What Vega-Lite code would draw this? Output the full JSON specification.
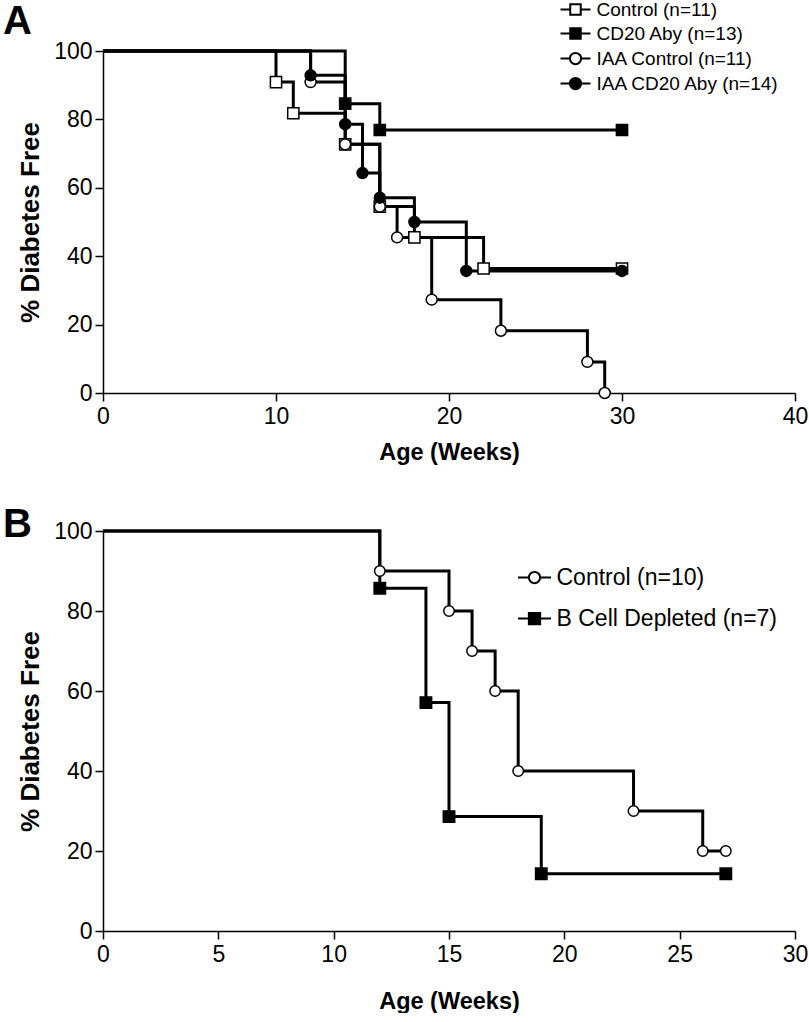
{
  "$schema": "https://vega.github.io/schema/vega-lite/v6.json",
  "background": "white",
  "padding": {"left": 3, "top": 0, "right": 0, "bottom": 0},
  "bounds": "flush",
  "spacing": 138,
  "datasets": {
    "A": [
      {"week": 0, "pct": 100, "group": "Control (n=11)"},
      {"week": 10, "pct": 90.9, "group": "Control (n=11)"},
      {"week": 11, "pct": 81.8, "group": "Control (n=11)"},
      {"week": 14, "pct": 72.7, "group": "Control (n=11)"},
      {"week": 16, "pct": 54.5, "group": "Control (n=11)"},
      {"week": 18, "pct": 45.5, "group": "Control (n=11)"},
      {"week": 22, "pct": 36.4, "group": "Control (n=11)"},
      {"week": 30, "pct": 36.4, "group": "Control (n=11)"},
      {"week": 0, "pct": 100, "group": "CD20 Aby (n=13)"},
      {"week": 14, "pct": 84.6, "group": "CD20 Aby (n=13)"},
      {"week": 16, "pct": 76.9, "group": "CD20 Aby (n=13)"},
      {"week": 30, "pct": 76.9, "group": "CD20 Aby (n=13)"},
      {"week": 0, "pct": 100, "group": "IAA Control (n=11)"},
      {"week": 12, "pct": 90.9, "group": "IAA Control (n=11)"},
      {"week": 14, "pct": 72.7, "group": "IAA Control (n=11)"},
      {"week": 16, "pct": 54.5, "group": "IAA Control (n=11)"},
      {"week": 17, "pct": 45.5, "group": "IAA Control (n=11)"},
      {"week": 19, "pct": 27.3, "group": "IAA Control (n=11)"},
      {"week": 23, "pct": 18.2, "group": "IAA Control (n=11)"},
      {"week": 28, "pct": 9.1, "group": "IAA Control (n=11)"},
      {"week": 29, "pct": 0, "group": "IAA Control (n=11)"},
      {"week": 0, "pct": 100, "group": "IAA CD20 Aby (n=14)"},
      {"week": 12, "pct": 92.9, "group": "IAA CD20 Aby (n=14)"},
      {"week": 14, "pct": 78.6, "group": "IAA CD20 Aby (n=14)"},
      {"week": 15, "pct": 64.3, "group": "IAA CD20 Aby (n=14)"},
      {"week": 16, "pct": 57.1, "group": "IAA CD20 Aby (n=14)"},
      {"week": 18, "pct": 50, "group": "IAA CD20 Aby (n=14)"},
      {"week": 21, "pct": 35.7, "group": "IAA CD20 Aby (n=14)"},
      {"week": 30, "pct": 35.7, "group": "IAA CD20 Aby (n=14)"}
    ],
    "B": [
      {"week": 0, "pct": 100, "group": "Control (n=10)"},
      {"week": 12, "pct": 90, "group": "Control (n=10)"},
      {"week": 15, "pct": 80, "group": "Control (n=10)"},
      {"week": 16, "pct": 70, "group": "Control (n=10)"},
      {"week": 17, "pct": 60, "group": "Control (n=10)"},
      {"week": 18, "pct": 40, "group": "Control (n=10)"},
      {"week": 23, "pct": 30, "group": "Control (n=10)"},
      {"week": 26, "pct": 20, "group": "Control (n=10)"},
      {"week": 27, "pct": 20, "group": "Control (n=10)"},
      {"week": 0, "pct": 100, "group": "B Cell Depleted (n=7)"},
      {"week": 12, "pct": 85.7, "group": "B Cell Depleted (n=7)"},
      {"week": 14, "pct": 57.1, "group": "B Cell Depleted (n=7)"},
      {"week": 15, "pct": 28.6, "group": "B Cell Depleted (n=7)"},
      {"week": 19, "pct": 14.3, "group": "B Cell Depleted (n=7)"},
      {"week": 27, "pct": 14.3, "group": "B Cell Depleted (n=7)"}
    ]
  },
  "resolve": {
    "scale": {"x": "independent", "y": "independent", "shape": "independent", "fill": "independent"},
    "legend": {"shape": "independent", "fill": "independent"}
  },
  "vconcat": [
    {
      "width": 692,
      "height": 342,
      "title": {"text": "A", "anchor": "start", "frame": "group", "fontSize": 40, "fontWeight": "bold", "font": "Liberation Sans", "color": "black", "dx": -100, "offset": -74, "baseline": "alphabetic"},
      "data": {"name": "A"},
      "encoding": {
        "x": {"field": "week", "type": "quantitative", "scale": {"domain": [0, 40], "nice": false},
              "axis": {"values": [0, 10, 20, 30, 40], "title": "Age (Weeks)", "labelPadding": 4, "titlePadding": 12}},
        "y": {"field": "pct", "type": "quantitative", "scale": {"domain": [0, 100], "nice": false},
              "axis": {"values": [0, 20, 40, 60, 80, 100], "title": "% Diabetes Free", "titlePadding": 10, "titleFontSize": 26}}
      },
      "layer": [
        {"mark": {"type": "line", "interpolate": "step-after", "stroke": "black", "strokeWidth": 3},
         "encoding": {"detail": {"field": "group"}}},
        {"transform": [{"filter": "datum.week > 0 && datum.group == 'Control (n=11)'"}],
         "mark": {"type": "point", "shape": "square", "filled": true, "fill": "white", "stroke": "black", "strokeWidth": 1.5, "size": 125, "opacity": 1}},
        {"transform": [{"filter": "datum.week > 0 && datum.group == 'CD20 Aby (n=13)'"}],
         "mark": {"type": "point", "shape": "square", "filled": true, "fill": "black", "stroke": "black", "strokeWidth": 1.5, "size": 125, "opacity": 1}},
        {"transform": [{"filter": "datum.week > 0 && datum.group == 'IAA Control (n=11)'"}],
         "mark": {"type": "point", "shape": "circle", "filled": true, "fill": "white", "stroke": "black", "strokeWidth": 1.5, "size": 120, "opacity": 1}},
        {"transform": [{"filter": "datum.week > 0 && datum.group == 'IAA CD20 Aby (n=14)'"}],
         "mark": {"type": "point", "shape": "circle", "filled": true, "fill": "black", "stroke": "black", "strokeWidth": 1.5, "size": 120, "opacity": 1}},
        {"transform": [{"filter": "datum.week == 0"}],
         "mark": {"type": "point", "filled": true, "opacity": 0, "strokeWidth": 2},
         "encoding": {
           "stroke": {"value": "black"},
           "shape": {"field": "group", "type": "nominal",
             "scale": {"domain": ["Control (n=11)", "CD20 Aby (n=13)", "IAA Control (n=11)", "IAA CD20 Aby (n=14)"],
                       "range": ["M-2,0H-0.7M0.7,0H2M-0.7,-0.7H0.7V0.7H-0.7Z", "M-2,0H-0.7M0.7,0H2M-0.7,-0.7H0.7V0.7H-0.7Z", "M-2,0H-0.75M0.75,0H2M-0.75,0A0.75,0.75,0,1,0,0.75,0A0.75,0.75,0,1,0,-0.75,0Z", "M-2,0H-0.75M0.75,0H2M-0.75,0A0.75,0.75,0,1,0,0.75,0A0.75,0.75,0,1,0,-0.75,0Z"]},
             "legend": {"orient": "none", "legendX": 463, "legendY": -51, "title": null, "padding": 0, "labelFont": "Liberation Sans", "labelFontSize": 19, "labelColor": "black", "labelLimit": 400, "labelOffset": 11.5, "rowPadding": 4, "symbolSize": 225, "symbolStrokeWidth": 2, "symbolOpacity": 1}},
           "fill": {"field": "group", "type": "nominal",
             "scale": {"domain": ["Control (n=11)", "CD20 Aby (n=13)", "IAA Control (n=11)", "IAA CD20 Aby (n=14)"], "range": ["white", "black", "white", "black"]},
             "legend": {"orient": "none", "legendX": 463, "legendY": -51, "title": null, "padding": 0, "labelFont": "Liberation Sans", "labelFontSize": 19, "labelColor": "black", "labelLimit": 400, "labelOffset": 11.5, "rowPadding": 4, "symbolSize": 225, "symbolStrokeWidth": 2, "symbolOpacity": 1}}
         }}
      ]
    },
    {
      "width": 692,
      "height": 400,
      "title": {"text": "B", "anchor": "start", "frame": "group", "fontSize": 40, "fontWeight": "bold", "font": "Liberation Sans", "color": "black", "dx": -100, "offset": -57, "baseline": "alphabetic"},
      "data": {"name": "B"},
      "encoding": {
        "x": {"field": "week", "type": "quantitative", "scale": {"domain": [0, 30], "nice": false},
              "axis": {"values": [0, 5, 10, 15, 20, 25, 30], "title": "Age (Weeks)", "labelPadding": 4, "titlePadding": 23}},
        "y": {"field": "pct", "type": "quantitative", "scale": {"domain": [0, 100], "nice": false},
              "axis": {"values": [0, 20, 40, 60, 80, 100], "title": "% Diabetes Free", "titlePadding": 10, "titleFontSize": 26}}
      },
      "layer": [
        {"mark": {"type": "line", "interpolate": "step-after", "stroke": "black", "strokeWidth": 3},
         "encoding": {"detail": {"field": "group"}}},
        {"transform": [{"filter": "datum.week > 0 && datum.group == 'Control (n=10)'"}],
         "mark": {"type": "point", "shape": "circle", "filled": true, "fill": "white", "stroke": "black", "strokeWidth": 1.5, "size": 110, "opacity": 1}},
        {"transform": [{"filter": "datum.week > 0 && datum.group == 'B Cell Depleted (n=7)'"}],
         "mark": {"type": "point", "shape": "square", "filled": true, "fill": "black", "stroke": "black", "strokeWidth": 1.5, "size": 130, "opacity": 1}},
        {"transform": [{"filter": "datum.week == 0"}],
         "mark": {"type": "point", "filled": true, "opacity": 0, "strokeWidth": 2},
         "encoding": {
           "stroke": {"value": "black"},
           "shape": {"field": "group", "type": "nominal",
             "scale": {"domain": ["Control (n=10)", "B Cell Depleted (n=7)"],
                       "range": ["M-2.2,0H-0.75M0.75,0H2.2M-0.75,0A0.75,0.75,0,1,0,0.75,0A0.75,0.75,0,1,0,-0.75,0Z", "M-2.2,0H-0.75M0.75,0H2.2M-0.75,-0.75H0.75V0.75H-0.75Z"]},
             "legend": {"orient": "none", "legendX": 420, "legendY": 35, "title": null, "padding": 0, "labelFont": "Liberation Sans", "labelFontSize": 23, "labelColor": "black", "labelLimit": 400, "labelOffset": 10.5, "rowPadding": 17, "symbolSize": 225, "symbolStrokeWidth": 2, "symbolOpacity": 1}},
           "fill": {"field": "group", "type": "nominal",
             "scale": {"domain": ["Control (n=10)", "B Cell Depleted (n=7)"], "range": ["white", "black"]},
             "legend": {"orient": "none", "legendX": 420, "legendY": 35, "title": null, "padding": 0, "labelFont": "Liberation Sans", "labelFontSize": 23, "labelColor": "black", "labelLimit": 400, "labelOffset": 10.5, "rowPadding": 17, "symbolSize": 225, "symbolStrokeWidth": 2, "symbolOpacity": 1}}
         }}
      ]
    }
  ],
  "config": {
    "view": {"stroke": null},
    "font": "Liberation Sans",
    "axis": {"grid": false, "domainColor": "black", "domainWidth": 1.5, "tickColor": "black", "tickWidth": 1.5, "tickSize": 8,
             "labelColor": "black", "labelFont": "Liberation Sans", "labelFontSize": 23, "labelPadding": 3,
             "labelFlush": false, "labelOverlap": false,
             "titleColor": "black", "titleFont": "Liberation Sans", "titleFontSize": 23.5, "titleFontWeight": "bold"}
  }
}
